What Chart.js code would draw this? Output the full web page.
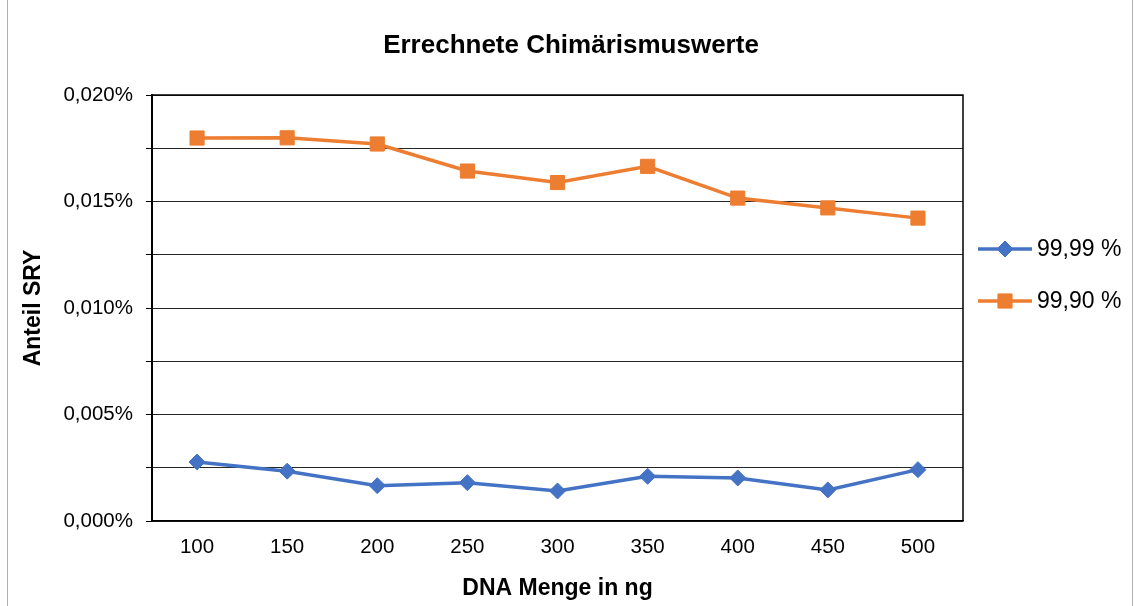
<!DOCTYPE html>
<html>
<head>
<meta charset="utf-8">
<script src="https://cdn.jsdelivr.net/npm/chart.js@4"></script>
<style>
  body { margin: 0; background: #fff; }
  #wrap { width: 1134px; height: 606px; }
</style>
</head>
<body>
<div id="wrap"><canvas id="chimChart" width="1134" height="606"></canvas></div>
<script>
// data (values in %)
const dnaAmounts = ['100', '150', '200', '250', '300', '350', '400', '450', '500'];
const series9999 = [0.00277, 0.00234, 0.00166, 0.00180, 0.00141, 0.00210, 0.00202, 0.00146, 0.00241];
const series9990 = [0.01798, 0.01799, 0.01770, 0.01643, 0.01589, 0.01665, 0.01516, 0.01470, 0.01422];
const seriesNames = ['99,99 %', '99,90 %'];
const chartTitle = 'Errechnete Chimärismuswerte';

const fontFam = '"Liberation Sans", Arial, sans-serif';

// title centred on the whole canvas, legend with line + marker, frames
const extras = {
  id: 'extras',
  afterDraw(chart) {
    const c = chart.ctx;
    c.save();
    c.fillStyle = '#000';
    c.font = 'bold 26px ' + fontFam;
    c.textAlign = 'center';
    c.textBaseline = 'middle';
    c.fillText(chartTitle, 571, 46);
    c.restore();

    const rows = [249, 301];
    chart.data.datasets.forEach((ds, i) => {
      const y = rows[i];
      c.save();
      c.strokeStyle = ds.borderColor;
      c.lineWidth = ds.borderWidth;
      c.beginPath();
      c.moveTo(978, y);
      c.lineTo(1032, y);
      c.stroke();
      c.fillStyle = ds.borderColor;
      c.strokeStyle = ds.borderColor;
      c.lineWidth = 1;
      Chart.helpers.drawPoint(c, { pointStyle: ds.pointStyle, radius: ds.pointRadius, borderWidth: 1 }, 1005, y);
      c.fillStyle = '#000';
      c.font = '23px ' + fontFam;
      c.textAlign = 'left';
      c.textBaseline = 'middle';
      c.fillText(ds.label, 1037, y + 1);
      c.restore();
    });

    const a = chart.chartArea;
    c.save();
    c.strokeStyle = '#000';
    c.lineWidth = 1.5;
    c.beginPath();
    c.moveTo(a.left, a.top);
    c.lineTo(a.right, a.top);
    c.lineTo(a.right, a.bottom);
    c.stroke();
    c.strokeStyle = '#b0b0b0';
    c.lineWidth = 1;
    c.beginPath();
    c.moveTo(7.5, 0);
    c.lineTo(7.5, chart.height);
    c.moveTo(1132.5, 0);
    c.lineTo(1132.5, chart.height);
    c.stroke();
    c.restore();
  }
};

const ctx = document.getElementById('chimChart').getContext('2d');
const chimChart = new Chart(ctx, {
  type: 'line',
  data: {
    labels: dnaAmounts,
    datasets: [{
      label: seriesNames[0],
      data: series9999,
      borderColor: '#4472C4',
      backgroundColor: '#4472C4',
      borderWidth: 3.5,
      pointStyle: 'rectRot',
      pointRadius: 8,
      pointBorderWidth: 1
    }, {
      label: seriesNames[1],
      data: series9990,
      borderColor: '#ED7D31',
      backgroundColor: '#ED7D31',
      borderWidth: 3.5,
      pointStyle: 'rect',
      pointRadius: 10,
      pointBorderWidth: 1
    }]
  },
  options: {
    responsive: false,
    animation: false,
    layout: { padding: { left: 20, right: 171, top: 95, bottom: 4 } },
    plugins: {
      legend: { display: false },
      tooltip: { enabled: false },
      title: { display: false }
    },
    scales: {
      x: {
        offset: true,
        grid: { display: false },
        border: { display: true, color: '#000', width: 1.5 },
        ticks: { color: '#000', font: { family: fontFam, size: 20.5 }, padding: 6 },
        title: {
          display: true,
          text: 'DNA Menge in ng',
          color: '#000',
          font: { family: fontFam, size: 23, weight: 'bold' },
          padding: { top: 0, bottom: 0 }
        },
        afterFit(scale) { scale.height = 81; }
      },
      y: {
        min: 0,
        max: 0.02,
        grid: { color: '#262626', lineWidth: 1, tickLength: 6, tickColor: '#000' },
        border: { display: true, color: '#000', width: 2 },
        ticks: {
          stepSize: 0.0025,
          color: '#000',
          font: { family: fontFam, size: 20.5 },
          padding: 13,
          callback: (v, i) => i % 2 === 0 ? v.toFixed(3).replace('.', ',') + '%' : ''
        },
        title: {
          display: true,
          text: 'Anteil SRY',
          color: '#000',
          font: { family: fontFam, size: 23, weight: 'bold' },
          padding: { top: 0, bottom: 0 }
        },
        afterFit(scale) { scale.width = 132; }
      }
    }
  },
  plugins: [extras]
});
</script>
</body>
</html>
